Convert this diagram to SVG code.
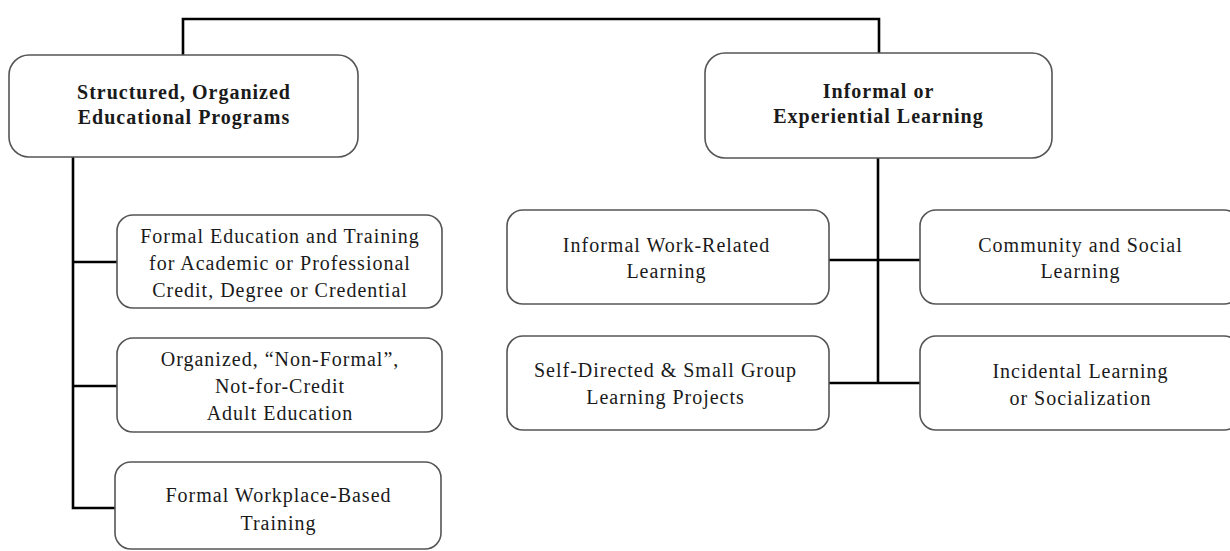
<svg xmlns="http://www.w3.org/2000/svg" width="1230" height="551" viewBox="0 0 1230 551">
<style>
.box{fill:#fff;stroke:#555;stroke-width:1.6}
.t{font-family:"Liberation Serif","Times New Roman",serif;font-size:20px;letter-spacing:1px;fill:#1a1a1a;text-anchor:middle}
.b{font-weight:bold}
.c{fill:none;stroke:#000;stroke-width:2.6}
</style>
<rect width="1230" height="551" fill="#fff"/>
<g id="connectors">
<polyline class="c" points="183,55 183,19 879,19 879,53"/>
<polyline class="c" points="73,157 73,508 116,508"/>
<line class="c" x1="73" y1="262" x2="117" y2="262"/>
<line class="c" x1="73" y1="386" x2="117" y2="386"/>
<polyline class="c" points="878,158 878,383"/>
<line class="c" x1="829" y1="260" x2="920" y2="260"/>
<line class="c" x1="829" y1="383" x2="920" y2="383"/>
</g>
<g id="structured">
<rect class="box" x="9" y="55" width="349" height="102" rx="20"/>
<text class="t b" x="184" y="99">Structured, Organized</text>
<text class="t b" x="184" y="124">Educational Programs</text>
</g>
<g id="informal">
<rect class="box" x="705" y="53" width="347" height="105" rx="20"/>
<text class="t b" x="878.5" y="98">Informal or</text>
<text class="t b" x="878.5" y="123">Experiential Learning</text>
</g>
<g id="formal-education">
<rect class="box" x="117" y="215" width="325" height="93" rx="16"/>
<text class="t" x="280" y="243">Formal Education and Training</text>
<text class="t" x="280" y="270">for Academic or Professional</text>
<text class="t" x="280" y="297">Credit, Degree or Credential</text>
</g>
<g id="non-formal">
<rect class="box" x="117" y="338" width="325" height="94" rx="16"/>
<text class="t" x="280" y="366">Organized, “Non-Formal”,</text>
<text class="t" x="280" y="393">Not-for-Credit</text>
<text class="t" x="280" y="420">Adult Education</text>
</g>
<g id="workplace">
<rect class="box" x="115" y="462" width="326" height="87" rx="16"/>
<text class="t" x="278.5" y="502">Formal Workplace-Based</text>
<text class="t" x="278.5" y="530">Training</text>
</g>
<g id="informal-work">
<rect class="box" x="507" y="210" width="322" height="94" rx="16"/>
<text class="t" x="666.5" y="252">Informal Work-Related</text>
<text class="t" x="666.5" y="278">Learning</text>
</g>
<g id="community">
<rect class="box" x="920" y="210" width="320" height="94" rx="16"/>
<text class="t" x="1080.5" y="252">Community and Social</text>
<text class="t" x="1080.5" y="278">Learning</text>
</g>
<g id="self-directed">
<rect class="box" x="507" y="336" width="322" height="94" rx="16"/>
<text class="t" x="665.5" y="377">Self-Directed &amp; Small Group</text>
<text class="t" x="665.5" y="404">Learning Projects</text>
</g>
<g id="incidental">
<rect class="box" x="920" y="336" width="320" height="94" rx="16"/>
<text class="t" x="1080.5" y="378">Incidental Learning</text>
<text class="t" x="1080.5" y="405">or Socialization</text>
</g>
</svg>
